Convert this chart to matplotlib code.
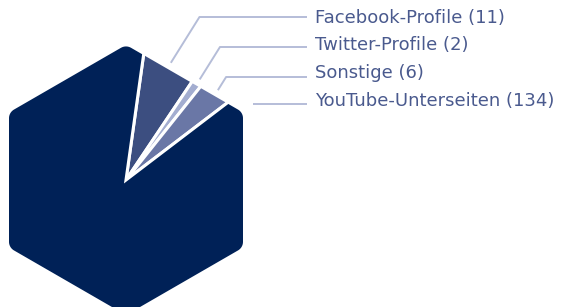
import numpy as np
import matplotlib
matplotlib.use("Agg")
import matplotlib.pyplot as plt
from matplotlib.path import Path
from matplotlib.patches import PathPatch

categories = ["Facebook-Profile", "Twitter-Profile", "Sonstige", "YouTube-Unterseiten"]
values = [11, 2, 6, 134]
colors = ["#3c4e80", "#a3add0", "#6a77a6", "#002157"]

W, H = 564, 307
fig = plt.figure(figsize=(W / 100, H / 100), dpi=100)
ax = fig.add_axes([0, 0, 1, 1])

cx, cy = 126, H - 180
apothem = 117
R = apothem / np.cos(np.radians(30))
start = 82.0

# rounded hexagon outline (clockwise)
corner_r = 10
pts = []
for k in range(6):
    a = np.radians(90 - 60 * k)
    d = corner_r / np.sin(np.radians(60))
    ccx, ccy = cx + (R - d) * np.cos(a), cy + (R - d) * np.sin(a)
    for t in np.linspace(30, -30, 12):
        b = a + np.radians(t)
        pts.append((ccx + corner_r * np.cos(b), ccy + corner_r * np.sin(b)))

wedges, _ = ax.pie(values, colors=colors, startangle=start, counterclock=False,
                   center=(cx, cy), radius=220, frame=True,
                   wedgeprops=dict(edgecolor="white", linewidth=2.2))
ax.set_xlim(0, W)
ax.set_ylim(0, H)
ax.set_aspect("equal")
ax.axis("off")

# white mask outside the hexagon
big = [(-50, -50), (W + 50, -50), (W + 50, H + 50), (-50, H + 50), (-50, -50)]
hole = pts + [pts[0]]
verts = big + hole
codes = ([Path.MOVETO] + [Path.LINETO] * 3 + [Path.CLOSEPOLY]
         + [Path.MOVETO] + [Path.LINETO] * (len(pts) - 1) + [Path.CLOSEPOLY])
mask = PathPatch(Path(verts, codes), facecolor="white", edgecolor="none", zorder=5)
ax.add_patch(mask)

line_color = "#b5bdd8"
text_color = "#4a5a8e"
line_y = [H - 17, H - 47, H - 77, H - 104]
text_y = [H - 18, H - 45.5, H - 73, H - 100.5]
line_end_x = 307
text_x = 315

total = sum(values)
ang = start
for i, (cat, v) in enumerate(zip(categories, values)):
    span = 360 * v / total
    mid = ang - span / 2
    ang -= span
    if i < 3:
        m = np.radians(mid)
        dist = apothem / np.cos(np.radians(mid - 60)) + 7
        sx, sy = cx + dist * np.cos(m), cy + dist * np.sin(m)
        bx = sx + (line_y[i] - sy) / np.tan(np.radians(58))
        ax.plot([sx, bx, line_end_x], [sy, line_y[i], line_y[i]], color=line_color, lw=1.4,
                solid_capstyle="butt", zorder=6)
    else:
        ax.plot([253, line_end_x], [line_y[i], line_y[i]], color=line_color, lw=1.4,
                solid_capstyle="butt", zorder=6)
    ax.text(text_x, text_y[i], f"{cat} ({v})", color=text_color, fontsize=13,
            va="center", ha="left", family="DejaVu Sans", zorder=7)

fig.savefig("out.png", dpi=100)
